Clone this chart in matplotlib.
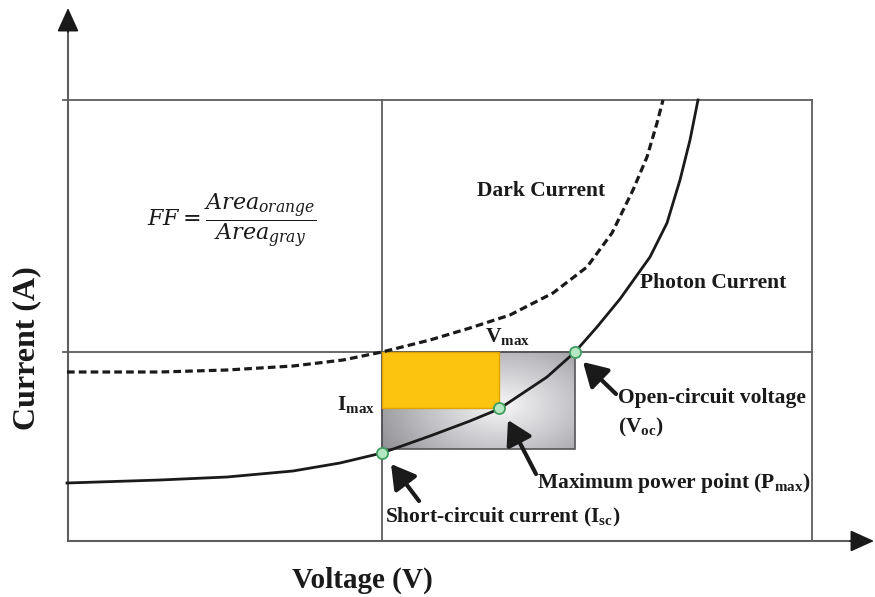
import numpy as np
import matplotlib
matplotlib.use("Agg")
import matplotlib.pyplot as plt
from matplotlib.colors import LinearSegmentedColormap
from matplotlib.patches import Rectangle

plt.rcParams['font.family'] = ['Liberation Serif', 'DejaVu Serif']
plt.rcParams['mathtext.fontset'] = 'custom'
plt.rcParams['mathtext.rm'] = 'DejaVu Serif'
plt.rcParams['mathtext.it'] = 'DejaVu Serif:italic'
plt.rcParams['mathtext.bf'] = 'Liberation Serif:bold'

# === I-V curves (arbitrary units) ===
photon_v = [-3.15, -2.22, -1.55, -0.89, -0.42, 0.00, 0.48, 0.88, 1.17, 1.65, 1.93, 2.15, 2.38, 2.68, 2.85, 2.98, 3.08, 3.16]
photon_i = [-1.31, -1.28, -1.25, -1.19, -1.11, -1.01, -0.84, -0.69, -0.57, -0.25, 0.00, 0.25, 0.53, 0.95, 1.29, 1.72, 2.12, 2.52]

dark_v = [-3.15, -2.22, -1.55, -0.89, -0.39, 0.00, 0.48, 0.88, 1.28, 1.71, 2.05, 2.30, 2.51, 2.65, 2.75, 2.81]
dark_i = [-0.20, -0.20, -0.18, -0.14, -0.08, 0.00, 0.12, 0.24, 0.37, 0.59, 0.85, 1.19, 1.62, 1.95, 2.29, 2.52]

# key points
isc = -1.01
voc = 1.93
v_max = 1.17
i_max = -0.56
gray_bottom = -0.97

# frame
v_left, v_right = -3.14, 4.30
i_bottom, i_top = -1.89, 2.52

LINE = '#5e5e5e'
fig = plt.figure(figsize=(8.75, 5.97), dpi=100)
ax = fig.add_axes([0, 0, 1, 1])
ax.set_xlim(-3.82, 4.93)
ax.set_ylim(-2.45, 3.52)
ax.axis('off')

# frame lines
ax.plot([v_left - 0.05, v_right], [i_top, i_top], color=LINE, lw=1.3)
ax.plot([v_left - 0.05, v_right], [0, 0], color=LINE, lw=1.3)
ax.plot([v_right, v_right], [i_bottom, i_top], color=LINE, lw=1.3)
ax.plot([0, 0], [i_bottom, i_top], color=LINE, lw=1.3)
ax.plot([v_left, v_left], [i_bottom, 3.30], color=LINE, lw=1.5)
ax.plot([v_left, 4.80], [i_bottom, i_bottom], color=LINE, lw=1.5)
head = dict(arrowstyle='-|>,head_length=0.55,head_width=0.25', color='#1a1a1a',
            lw=1.2, mutation_scale=27, shrinkA=0, shrinkB=0)
ax.annotate('', xy=(v_left, 3.44), xytext=(v_left, 3.20), arrowprops=head)
ax.annotate('', xy=(4.92, i_bottom), xytext=(4.68, i_bottom), arrowprops=head)

# gray rectangle with radial shading
gx, gy = np.meshgrid(np.linspace(0, 1, 200), np.linspace(0, 1, 100))
r = np.sqrt(((gx - 0.62) / 0.75) ** 2 + ((gy - 0.55) / 0.9) ** 2)
shade = np.clip(1 - r, 0, 1)
cmap = LinearSegmentedColormap.from_list('g', ['#8c8c91', '#c4c4c8', '#f6f6f8'])
ax.imshow(shade, extent=[0, voc, gray_bottom, 0], cmap=cmap, aspect='auto',
          origin='upper', zorder=1, interpolation='bilinear')
ax.add_patch(Rectangle((0, gray_bottom), voc, -gray_bottom, fill=False,
                       edgecolor='#555558', lw=1.2, zorder=2))
ax.add_patch(Rectangle((0, i_max), v_max, -i_max, facecolor='#fdc40f',
                       edgecolor='#e0a400', lw=1.0, zorder=3))

# curves
ax.plot(dark_v, dark_i, color='#1a1a1a', lw=2.3, ls=(0, (2.4, 1.3)), zorder=4)
ax.plot(photon_v, photon_i, color='#1a1a1a', lw=2.0, zorder=4)

ax.plot([0, v_max, voc], [isc, i_max, 0], 'o', ms=8, mfc='#b5e8c2',
        mec='#3f9d5f', mew=1.3, zorder=5)

# pointer arrows
ptr = dict(arrowstyle='-|>,head_length=0.6,head_width=0.35', color='#1a1a1a',
           lw=3, mutation_scale=24, shrinkA=0, shrinkB=0)
ax.annotate('', xy=(voc + 0.08, -0.10), xytext=(voc + 0.41, -0.42), arrowprops=ptr, zorder=6)
ax.annotate('', xy=(v_max + 0.09, i_max - 0.12), xytext=(v_max + 0.37, i_max - 0.66), arrowprops=ptr, zorder=6)
ax.annotate('', xy=(0.09, isc - 0.11), xytext=(0.37, isc - 0.48), arrowprops=ptr, zorder=6)

# labels
bold = dict(fontweight='bold', fontsize=15.5, color='#1a1a1a')
ax.text(1.59, 1.61, 'Dark Current', ha='center', va='center', **bold)
ax.text(2.58, 0.69, 'Photon Current', ha='left', va='center', **bold)
ax.text(1.03, 0.10, r'$\mathbf{V_{max}}$', ha='left', va='baseline', **bold)
ax.text(-0.07, -0.58, r'$\mathbf{I_{max}}$', ha='right', va='baseline', **bold)
ax.text(2.36, -0.46, 'Open-circuit voltage', ha='left', va='center', **bold)
ax.text(2.36, -0.75, r'(V$_{\mathbf{oc}}$)', ha='left', va='center', **bold)
ax.text(1.55, -1.31, r'Maximum power point (P$_{\mathbf{max}}$)', ha='left', va='center', **bold)
ax.text(0.03, -1.65, r'Short-circuit current (I$_{\mathbf{sc}}$)', ha='left', va='center', **bold)

ax.text(-1.50, 1.31, r'$FF = \dfrac{Area_{orange}}{Area_{gray}}$', ha='center',
        va='center', fontsize=16, color='#1a1a1a')

ax.text(-0.20, -2.28, 'Voltage (V)', ha='center', va='center', fontsize=21,
        fontweight='bold', color='#1a1a1a')
ax.text(-3.55, 0.04, 'Current (A)', ha='center', va='center', fontsize=23,
        fontweight='bold', rotation=90, color='#1a1a1a')

fig.savefig('out.png', dpi=100)
